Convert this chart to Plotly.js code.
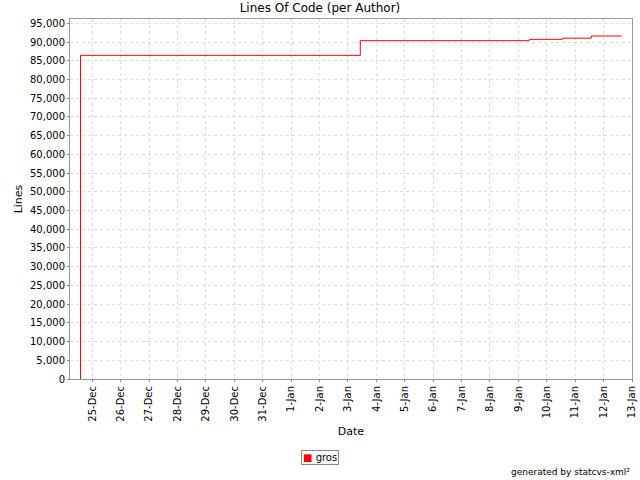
<!DOCTYPE html>
<html>
<head>
<meta charset="utf-8">
<script src="https://cdn.plot.ly/plotly-3.0.1.min.js"></script>
<style>
  html, body { margin: 0; padding: 0; background: #ffffff; }
  #chart { width: 640px; height: 480px; }
</style>
</head>
<body>
<div id="chart"></div>
<script>
// Lines of code over time for author "gros" (step series, value changes at each commit)
const author = 'gros';
const authorColor = '#ff0000';
const commitTimes = [
  '2003-12-24 14:02',
  '2003-12-24 14:03',
  '2004-01-03 10:26',
  '2004-01-09 09:14',
  '2004-01-10 13:08',
  '2004-01-11 13:37',
  '2004-01-12 15:19'
];
const linesOfCode = [0, 86450, 90360, 90720, 91030, 91610, 91610];

const dateRange = ['2003-12-24 05:10', '2004-01-13 00:00'];
const firstTick = '2003-12-25';
const linesRange = [0, 96150];

const font = 'DejaVu Sans, sans-serif';

const traces = [
  {
    x: commitTimes,
    y: linesOfCode,
    type: 'scatter',
    mode: 'lines',
    line: { shape: 'hv', color: authorColor, width: 1 },
    name: author,
    showlegend: false,
    hoverinfo: 'x+y'
  }
];

const layout = {
  width: 640,
  height: 480,
  paper_bgcolor: '#ffffff',
  plot_bgcolor: '#ffffff',
  margin: { l: 70, r: 8, t: 19, b: 101 },
  font: { family: font, size: 10, color: '#000000' },
  title: {
    text: 'Lines Of Code (per Author)',
    font: { family: font, size: 12, color: '#000000' },
    xref: 'container', x: 0.5, xanchor: 'center',
    yref: 'container', y: 0.983, yanchor: 'middle'
  },
  xaxis: {
    type: 'date',
    range: dateRange,
    tick0: firstTick,
    dtick: 86400000,
    tickformat: '%-d-%b',
    tickangle: -90,
    ticks: 'outside',
    ticklen: 2,
    tickcolor: '#888888',
    tickfont: { family: font, size: 10, color: '#000000' },
    showline: true,
    linecolor: '#999999',
    linewidth: 1,
    mirror: true,
    showgrid: true,
    gridcolor: '#dddddd',
    griddash: '3px,3px',
    gridwidth: 1,
    zeroline: false,
    title: {
      text: 'Date',
      font: { family: font, size: 11, color: '#000000' },
      standoff: 6
    }
  },
  yaxis: {
    range: linesRange,
    dtick: 5000,
    tickformat: ',d',
    ticks: 'outside',
    ticklen: 2,
    tickcolor: '#888888',
    tickfont: { family: font, size: 10, color: '#000000' },
    showline: true,
    linecolor: '#999999',
    linewidth: 1,
    mirror: true,
    showgrid: true,
    gridcolor: '#dddddd',
    griddash: '3px,3px',
    gridwidth: 1,
    zeroline: false,
    title: {
      text: 'Lines',
      font: { family: font, size: 11, color: '#000000' },
      standoff: 5
    }
  },
  showlegend: false,
  annotations: [
    {
      // compact legend box: colour swatch + author name
      text: '<span style="color:' + authorColor + '">■</span> ' + author,
      xref: 'paper', x: (320 - 70) / 562, xanchor: 'center',
      yref: 'paper', y: (379 - 457.5) / 360, yanchor: 'middle',
      showarrow: false,
      bordercolor: '#888888',
      borderwidth: 1,
      borderpad: 1,
      bgcolor: '#ffffff',
      font: { family: font, size: 10, color: '#000000' }
    },
    {
      text: 'generated by statcvs-xml²',
      xref: 'paper', x: 1, xanchor: 'right',
      yref: 'paper', y: -0.258, yanchor: 'middle',
      showarrow: false,
      font: { family: font, size: 9, color: '#000000' }
    }
  ]
};

Plotly.newPlot('chart', traces, layout, { displayModeBar: false, staticPlot: true });
</script>
</body>
</html>
